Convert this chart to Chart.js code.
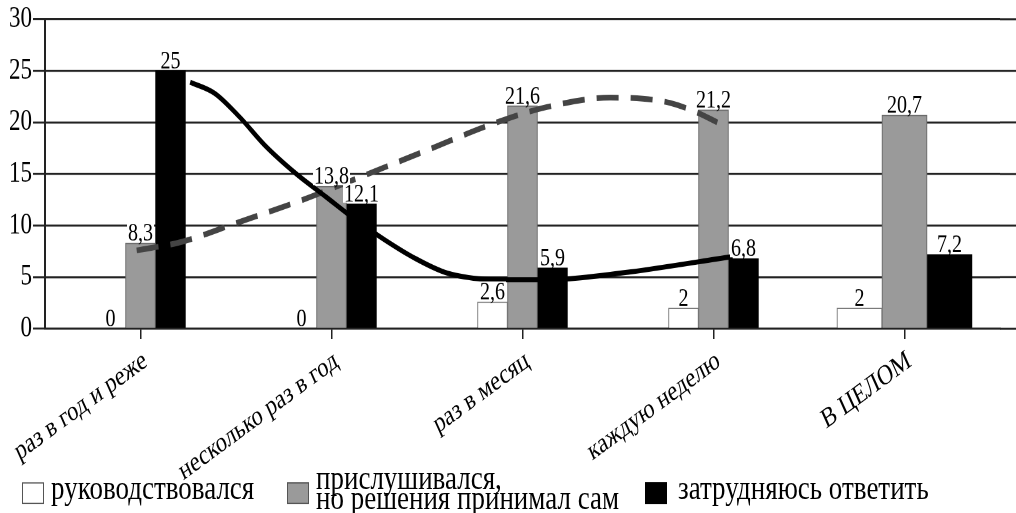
<!DOCTYPE html>
<html>
<head>
<meta charset="utf-8">
<script src="https://cdn.jsdelivr.net/npm/chart.js@4.4.1/dist/chart.umd.min.js"></script>
<style>
  html, body { margin: 0; padding: 0; background: #fff; width: 1016px; height: 513px; }
  /* the original picture is stretched vertically, so draw at 401px and stretch to 513px */
  #wrap { position: relative; width: 1016px; height: 401px; transform: scaleY(1.2793); transform-origin: 0 0; }
  #legend { position: absolute; left: 0; top: 0; font-family: 'Liberation Serif', 'Times New Roman', serif; color: #000; }
  .box { position: absolute; width: 22px; height: 17px; box-sizing: border-box; }
  .txt { position: absolute; font-size: 27px; line-height: 15.6px; white-space: nowrap; }
</style>
</head>
<body>
<div id="wrap">
  <canvas id="chart" width="1016" height="401"></canvas>
  <div id="legend"></div>
</div>
<script>
const categories = ['раз в год и реже', 'несколько раз в год', 'раз в месяц', 'каждую неделю', 'В ЦЕЛОМ'];
const seriesNames = ['руководствовался', 'прислушивался,\nно решения принимал сам', 'затрудняюсь ответить'];
const guided = [0, 0, 2.6, 2, 2];
const listened = [8.3, 13.8, 21.6, 21.2, 20.7];
const unsure = [25, 12.1, 5.9, 6.8, 7.2];
const yTicks = [0, 5, 10, 15, 20, 25, 30];

// hand-drawn trend curves (x in category units)
const unsureTrendX = [0.26, 0.39, 0.52, 0.65, 0.81, 0.97, 1.12, 1.28, 1.44, 1.59, 1.77, 1.92, 2.09, 2.25, 2.56, 3.10];
const unsureTrendY = [23.9, 22.8, 20.5, 17.8, 15.1, 12.8, 10.65, 8.6, 6.8, 5.5, 4.85, 4.75, 4.75, 4.85, 5.5, 7.0];
const listenedTrendX = [-0.02, 0.21, 0.51, 0.85, 1.15, 1.50, 1.85, 2.13, 2.46, 2.63, 2.77, 2.91, 3.02];
const listenedTrendY = [7.6, 8.4, 10.3, 12.5, 14.7, 17.3, 19.9, 21.5, 22.4, 22.3, 21.9, 21.0, 20.0];

const FONT = "'Liberation Serif', 'Times New Roman', serif";
const fills = ['#ffffff', '#9a9a9a', '#000000'];
const edges = ['#7a7a7a', '#6a6a6a', '#000000'];

// the last group ("В ЦЕЛОМ") has wider bars, so it gets its own datasets
const seriesValues = [guided, listened, unsure];
const points = (vals, from, to) => vals.slice(from, to).map((y, i) => ({ x: from + i, y }));

const datasets = [];
[[0, 4, 30], [4, 5, 45]].forEach(([from, to, thick]) => {
  seriesValues.forEach((vals, k) => {
    datasets.push({
      type: 'bar',
      label: seriesNames[k],
      data: points(vals, from, to),
      backgroundColor: fills[k],
      borderColor: edges[k],
      borderWidth: 1,
      barThickness: thick,
      skipNull: true,
      order: 1
    });
  });
});

datasets.push({
  type: 'line',
  data: unsureTrendX.map((x, i) => ({ x, y: unsureTrendY[i] })),
  borderColor: '#000',
  borderWidth: 4,
  pointRadius: 0,
  cubicInterpolationMode: 'monotone',
  fill: false,
  order: 0
});
datasets.push({
  type: 'line',
  data: listenedTrendX.map((x, i) => ({ x, y: listenedTrendY[i] })),
  borderColor: '#444',
  borderWidth: 4.5,
  borderDash: [22, 12],
  pointRadius: 0,
  cubicInterpolationMode: 'monotone',
  fill: false,
  order: 0
});

// value labels with a white backing, like in the original
const valueLabels = {
  id: 'valueLabels',
  afterDatasetsDraw(chart) {
    const ctx = chart.ctx;
    ctx.save();
    ctx.font = '20px ' + FONT;
    ctx.textAlign = 'center';
    ctx.textBaseline = 'alphabetic';
    chart.data.datasets.forEach((ds, di) => {
      if (ds.type !== 'bar') return;
      chart.getDatasetMeta(di).data.forEach((bar, i) => {
        const v = ds.data[i].y;
        const text = String(v).replace('.', ',');
        const w = ctx.measureText(text).width;
        const y = bar.y - 2;
        ctx.fillStyle = '#fff';
        ctx.fillRect(bar.x - w / 2 - 1, y - 14, w + 2, 15);
        ctx.fillStyle = '#000';
        ctx.fillText(text, bar.x, y);
      });
    });
    ctx.restore();
  }
};

// horizontal grid lines run to the right edge of the picture
const gridTail = {
  id: 'gridTail',
  afterDraw(chart) {
    const { ctx, chartArea, width } = chart;
    const ys = chart.scales.y;
    ctx.save();
    ctx.strokeStyle = '#222';
    ctx.lineWidth = 1.6;
    ys.ticks.forEach(t => {
      const py = ys.getPixelForValue(t.value);
      ctx.beginPath();
      ctx.moveTo(chartArea.right, py);
      ctx.lineTo(width, py);
      ctx.stroke();
    });
    ctx.restore();
  }
};

new Chart(document.getElementById('chart'), {
  data: { datasets },
  options: {
    responsive: false,
    animation: false,
    devicePixelRatio: 2,
    layout: { padding: { top: 15, right: 16, left: 0, bottom: 0 } },
    plugins: { legend: { display: false }, tooltip: { enabled: false } },
    scales: {
      x: {
        type: 'linear',
        min: -0.5,
        max: 4.5,
        offset: false,
        afterBuildTicks: s => { s.ticks = categories.map((c, i) => ({ value: i })); },
        grid: { drawOnChartArea: false, offset: false, tickLength: 8, color: '#222', lineWidth: 1.5 },
        border: { color: '#222', width: 1.6 },
        ticks: {
          color: '#000',
          font: { family: FONT, size: 22 },
          callback: v => categories[v],
          minRotation: 30,
          maxRotation: 30,
          padding: 4,
          labelOffset: 5,
          autoSkip: false
        },
        afterFit: s => { s.height = 144; }
      },
      y: {
        type: 'linear',
        min: 0,
        max: 30,
        afterBuildTicks: s => { s.ticks = yTicks.map(v => ({ value: v })); },
        grid: { color: '#222', lineWidth: 1.6, tickLength: 12 },
        border: { color: '#222', width: 2 },
        ticks: { color: '#000', font: { family: FONT, size: 23 }, padding: 1 },
        afterFit: s => { s.width = 45; }
      }
    }
  },
  plugins: [valueLabels, gridTail]
});

// legend below the axis
const legend = document.getElementById('legend');
const legendBoxX = [22, 287, 645];
const legendTextX = [51, 316, 678];
seriesNames.forEach((name, k) => {
  const box = document.createElement('div');
  box.className = 'box';
  box.style.left = legendBoxX[k] + 'px';
  box.style.top = '377px';
  box.style.background = fills[k];
  box.style.border = '1.5px solid ' + (k === 2 ? '#000' : '#555');
  legend.appendChild(box);
  const lines = name.split('\n');
  const txt = document.createElement('div');
  txt.className = 'txt';
  txt.style.left = legendTextX[k] + 'px';
  txt.style.top = (lines.length > 1 ? 366 : 374) + 'px';
  txt.innerHTML = lines.join('<br>');
  legend.appendChild(txt);
});
</script>
</body>
</html>
